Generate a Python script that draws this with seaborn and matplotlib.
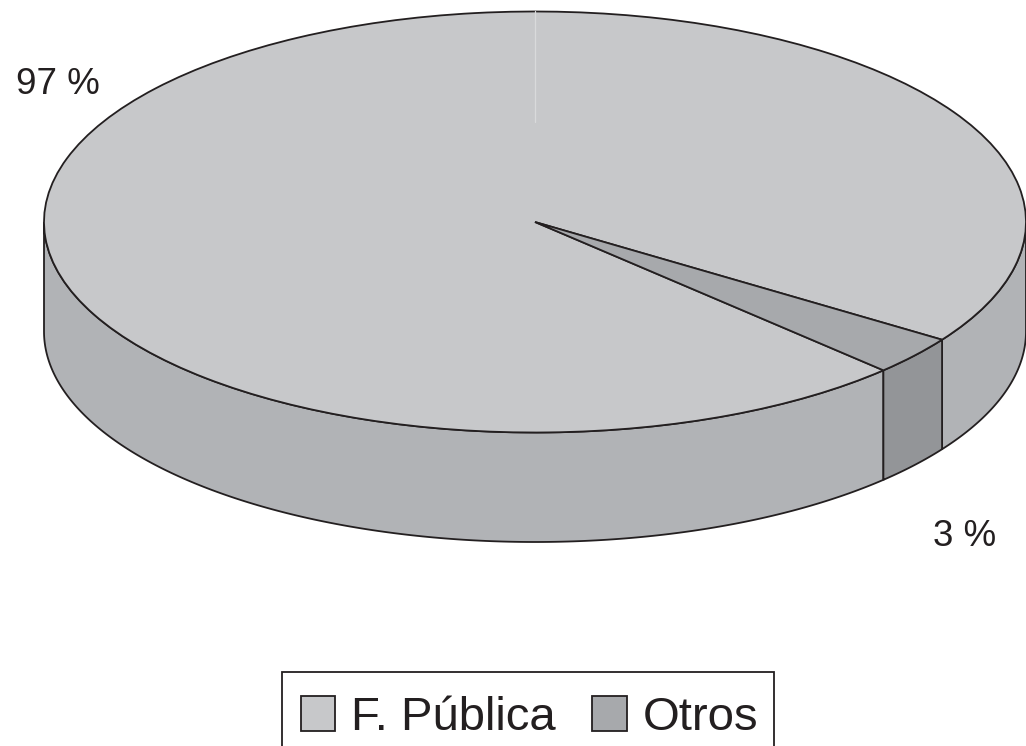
import matplotlib
matplotlib.use("Agg")
import matplotlib.pyplot as plt
import numpy as np
import seaborn as sns
from matplotlib.patches import Rectangle

categories = ["F. Pública", "Otros"]
shares = [97, 3]
share_labels = ["97 %", "3 %"]
top_colors = ["#c7c8ca", "#a7a9ac"]
side_colors = ["#b1b3b6", "#939598"]

W, H = 1026, 746
CX, CY, RX, RY = 535, 222, 491, 210.5
DEPTH = 109.5 / RY
EDGE = "#231f20"

sns.set_theme(style="white")
plt.rcParams["font.family"] = ["Liberation Sans", "DejaVu Sans"]

fig = plt.figure(figsize=(W / 100, H / 100), dpi=100)
ax = fig.add_axes([0, 0, 1, 1])


def draw_wall(theta1, theta2, color):
    # only the front half of the disc shows a wall
    lo, hi = max(theta1, 180), min(theta2, 360)
    if lo >= hi:
        return
    t = np.radians(np.linspace(lo, hi, 200))
    xs = np.r_[np.cos(t), np.cos(t[::-1])]
    ys = np.r_[np.sin(t), np.sin(t[::-1]) - DEPTH]
    ax.fill(xs, ys, facecolor=color, edgecolor=EDGE, linewidth=1.3, zorder=0.5)


wedges, _ = ax.pie(
    shares, colors=top_colors, startangle=-34, radius=1, frame=False,
    wedgeprops={"edgecolor": EDGE, "linewidth": 1.3},
)
for wedge, side in zip(wedges, side_colors):
    # the big wedge starts below zero, so its right part sits one turn on
    draw_wall(wedge.theta1, wedge.theta2, side)
    draw_wall(wedge.theta1 + 360, wedge.theta2 + 360, side)

# faint seam at the top of the disc
ax.plot([0, 0], [1, 100 / RY], color="#d9dadb", linewidth=0.9, zorder=3)

ax.set_aspect("auto")
ax.set_xlim(-CX / RX, (W - CX) / RX)
ax.set_ylim((CY - H) / RY, CY / RY)
ax.axis("off")

fig.text(58 / W, 1 - 85 / H, share_labels[0], fontsize=26.5, color=EDGE, ha="center", va="center")
fig.text(965 / W, 1 - 536 / H, share_labels[1], fontsize=26.5, color=EDGE, ha="center", va="center")

# legend box runs off the bottom of the page
box = Rectangle(
    (282 / W, -0.02), (774 - 282) / W, 1 - 672 / H + 0.02, transform=fig.transFigure,
    facecolor="white", edgecolor=EDGE, linewidth=1.3,
)
fig.add_artist(box)
legend = fig.legend(
    wedges, categories, loc="upper left", bbox_to_anchor=(300.5 / W, 1 - 696 / H),
    ncol=2, fontsize=34, frameon=False, borderaxespad=0, borderpad=0,
    handlelength=0.74, handleheight=0.74, handletextpad=0.33, columnspacing=0.77,
    labelcolor=EDGE,
)

fig.savefig("out.png", dpi=100)
